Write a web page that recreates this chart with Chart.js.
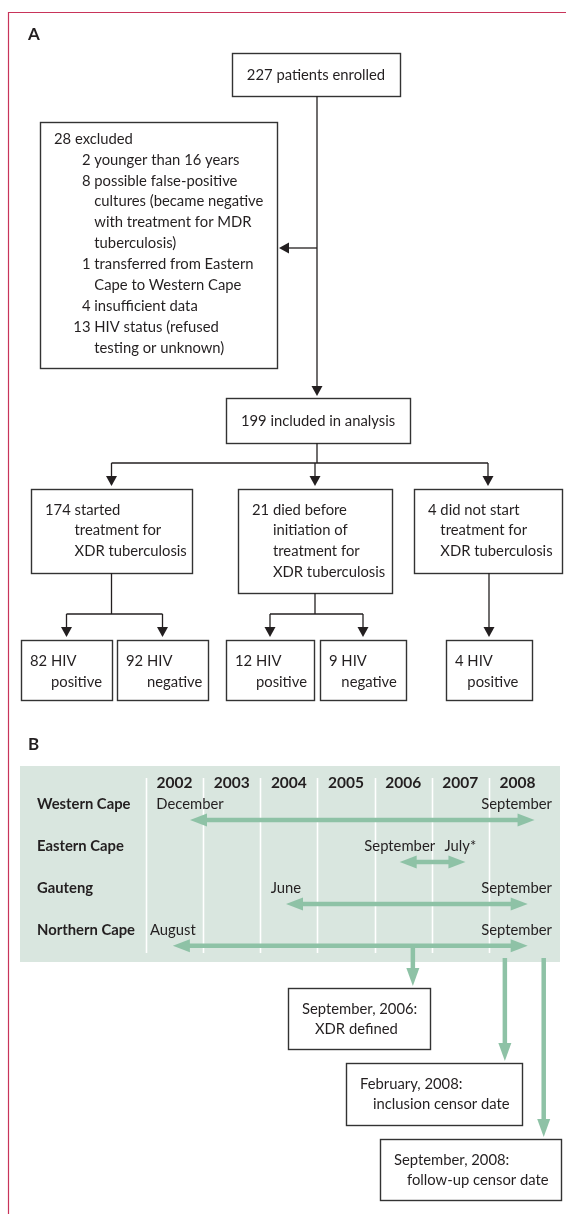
<!DOCTYPE html>
<html>
<head>
<meta charset="utf-8">
<script src="https://cdn.jsdelivr.net/npm/chart.js@4/dist/chart.umd.min.js"></script>
<style>
  html, body { margin: 0; padding: 0; background: #fff; }
  #wrap { position: relative; width: 566px; height: 1214px; }
</style>
</head>
<body>
<div id="wrap"><canvas id="chart"></canvas></div>
<script>
// ---- flowchart (panel A) ----
const enrolledCount = 227;
const excludedCount = 28;
const exclusionCounts = [2, 8, 1, 4, 13];
const exclusionReasons = [
  ["younger than 16 years"],
  ["possible false-positive", "cultures (became negative", "with treatment for MDR", "tuberculosis)"],
  ["transferred from Eastern", "Cape to Western Cape"],
  ["insufficient data"],
  ["HIV status (refused", "testing or unknown)"]
];
const includedCount = 199;
const groupCounts = [174, 21, 4];
const groupLabels = [
  ["started", "treatment for", "XDR tuberculosis"],
  ["died before", "initiation of", "treatment for", "XDR tuberculosis"],
  ["did not start", "treatment for", "XDR tuberculosis"]
];
const hivCounts = [82, 92, 12, 9, 4];
const hivLabels = [
  ["HIV", "positive"],
  ["HIV", "negative"],
  ["HIV", "positive"],
  ["HIV", "negative"],
  ["HIV", "positive"]
];
const hivParent = [0, 0, 1, 1, 2];

// ---- timeline (panel B) ----
const years = [2002, 2003, 2004, 2005, 2006, 2007, 2008];
const regions = ["Western Cape", "Eastern Cape", "Gauteng", "Northern Cape"];
const startYear = [2002.77, 2006.44, 2004.45, 2002.47];
const endYear = [2008.80, 2007.59, 2008.68, 2008.68];
const startMonth = ["December", "September", "June", "August"];
const endMonth = ["September", "July*", "September", "September"];
const eventYear = [2006.67, 2008.28, 2008.96];
const eventDate = ["September, 2006:", "February, 2008:", "September, 2008:"];
const eventText = ["XDR defined", "inclusion censor date", "follow-up censor date"];

const INK = "#231f20";
const GREEN = "#8ec2a6";
const PANEL = "#d9e6df";
const FRAME = "#c8345a";
const FACE = "Lato, 'Open Sans', sans-serif";
const TEXT_SIZE = 14.8;

function font(size, bold) {
  return `${bold ? "bold " : ""}${size}px ${FACE}`;
}

// layout of the boxes (pixels)
const flow = {
  enrolled: { x: 232, y: 53, w: 168, h: 43 },
  excluded: { x: 40, y: 122, w: 237, h: 246 },
  included: { x: 226, y: 398, w: 184, h: 45 },
  groups: [
    { x: 31, y: 489, w: 161, h: 84 },
    { x: 238, y: 489, w: 154, h: 104 },
    { x: 414, y: 489, w: 148, h: 84 }
  ],
  hiv: [
    { x: 21, y: 640, w: 91, h: 60 },
    { x: 117, y: 640, w: 91, h: 60 },
    { x: 226, y: 640, w: 88, h: 60 },
    { x: 320, y: 640, w: 86, h: 60 },
    { x: 446, y: 640, w: 86, h: 60 }
  ],
  trunkX: 317,
  exclY: 248,
  branchY: 463,
  splitY: 614
};
const panel = { x: 20, y: 766, w: 540, h: 196 };
const callouts = [
  { y: 988, w: 142, h: 61 },
  { y: 1063, w: 176, h: 62 },
  { y: 1139, w: 181, h: 61 }
];

function drawBox(ctx, b) {
  ctx.strokeStyle = "#333";
  ctx.lineWidth = 1.4;
  ctx.strokeRect(b.x + 0.5, b.y + 0.5, b.w, b.h);
}

function head(ctx, x, y, dx, dy, len, half) {
  // tip at (x, y), pointing along (dx, dy)
  const bx = x - dx * len, by = y - dy * len;
  ctx.beginPath();
  ctx.moveTo(x, y);
  ctx.lineTo(bx - dy * half, by + dx * half);
  ctx.lineTo(bx + dy * half, by - dx * half);
  ctx.closePath();
  ctx.fill();
}

function blackArrow(ctx, x1, y1, x2, y2) {
  const d = Math.hypot(x2 - x1, y2 - y1);
  const dx = (x2 - x1) / d, dy = (y2 - y1) / d;
  ctx.strokeStyle = INK;
  ctx.fillStyle = INK;
  ctx.lineWidth = 1.3;
  ctx.beginPath();
  ctx.moveTo(x1, y1);
  ctx.lineTo(x2 - dx * 9, y2 - dy * 9);
  ctx.stroke();
  head(ctx, x2, y2, dx, dy, 10, 5.5);
}

function line(ctx, pts) {
  ctx.strokeStyle = INK;
  ctx.lineWidth = 1.3;
  ctx.beginPath();
  pts.forEach(([x, y], i) => (i ? ctx.lineTo(x, y) : ctx.moveTo(x, y)));
  ctx.stroke();
}

// first line "N text", later lines hang under the text
function hangText(ctx, count, lines, x, y, lineH) {
  const lead = `${count} `;
  const indent = ctx.measureText(lead).width;
  lines.forEach((t, i) => {
    ctx.fillText(i === 0 ? lead + t : t, i === 0 ? x : x + indent, y + i * lineH);
  });
}

const flowchartPlugin = {
  id: "flowchart",
  beforeDraw(chart) {
    const ctx = chart.ctx;
    ctx.save();
    ctx.fillStyle = "#fff";
    ctx.fillRect(0, 0, chart.width, chart.height);

    // frame
    ctx.strokeStyle = FRAME;
    ctx.lineWidth = 1.2;
    ctx.beginPath();
    ctx.moveTo(566, 12.5);
    ctx.lineTo(8.5, 12.5);
    ctx.lineTo(8.5, 1214);
    ctx.stroke();

    ctx.fillStyle = INK;
    ctx.textBaseline = "middle";
    ctx.font = font(17, true);
    ctx.fillText("A", 28, 35);
    ctx.fillText("B", 28, 745);

    ctx.font = font(TEXT_SIZE);
    const e = flow.enrolled, inc = flow.included, ex = flow.excluded;
    drawBox(ctx, e);
    ctx.textAlign = "center";
    ctx.fillText(`${enrolledCount} patients enrolled`, e.x + e.w / 2, e.y + e.h / 2 + 1);
    drawBox(ctx, inc);
    ctx.fillText(`${includedCount} included in analysis`, inc.x + inc.w / 2, inc.y + inc.h / 2 + 1);
    ctx.textAlign = "left";

    // exclusions
    drawBox(ctx, ex);
    ctx.fillText(`${excludedCount} excluded`, ex.x + 14, ex.y + 17);
    const numRight = ex.x + 50.5;
    const sp = ctx.measureText(" ").width;
    let row = 1;
    exclusionCounts.forEach((n, i) => {
      const y0 = ex.y + 17 + row * 20.9;
      ctx.textAlign = "right";
      ctx.fillText(String(n), numRight, y0);
      ctx.textAlign = "left";
      exclusionReasons[i].forEach((t, k) => {
        ctx.fillText(t, numRight + sp, y0 + k * 20.9);
      });
      row += exclusionReasons[i].length;
    });

    // connectors
    const tx = flow.trunkX;
    blackArrow(ctx, tx, e.y + e.h, tx, inc.y - 2);
    blackArrow(ctx, tx, flow.exclY, ex.x + ex.w + 2, flow.exclY);

    const gc = flow.groups.map((g) => g.x + g.w / 2);
    line(ctx, [[tx, inc.y + inc.h], [tx, flow.branchY]]);
    line(ctx, [[gc[0], flow.branchY], [gc[2], flow.branchY]]);
    flow.groups.forEach((g, i) => {
      blackArrow(ctx, gc[i], flow.branchY, gc[i], g.y - 3);
      drawBox(ctx, g);
      hangText(ctx, groupCounts[i], groupLabels[i], g.x + 14, g.y + 21, 20.6);
    });

    const hc = flow.hiv.map((h) => h.x + h.w / 2);
    flow.groups.forEach((g, i) => {
      const kids = hivParent.map((p, k) => (p === i ? k : -1)).filter((k) => k >= 0);
      if (kids.length === 1) {
        const cx = hc[kids[0]];
        blackArrow(ctx, cx, g.y + g.h, cx, flow.hiv[kids[0]].y - 3);
        return;
      }
      line(ctx, [[gc[i], g.y + g.h], [gc[i], flow.splitY]]);
      line(ctx, [[hc[kids[0]], flow.splitY], [hc[kids[kids.length - 1]], flow.splitY]]);
      kids.forEach((k) => blackArrow(ctx, hc[k], flow.splitY, hc[k], flow.hiv[k].y - 3));
    });
    flow.hiv.forEach((h, k) => {
      drawBox(ctx, h);
      hangText(ctx, hivCounts[k], hivLabels[k], h.x + 9, h.y + 21, 21);
    });

    // timeline background
    ctx.fillStyle = PANEL;
    ctx.fillRect(panel.x, panel.y, panel.w, panel.h);
    ctx.restore();
  }
};

const timelinePlugin = {
  id: "timeline",
  beforeDatasetsDraw(chart) {
    const { ctx, chartArea, scales } = chart;
    ctx.save();
    ctx.strokeStyle = "#fff";
    ctx.lineWidth = 1.6;
    years.forEach((yr) => {
      const x = Math.round(scales.x.getPixelForValue(yr)) + 0.5;
      ctx.beginPath();
      ctx.moveTo(x, chartArea.top);
      ctx.lineTo(x, chartArea.bottom);
      ctx.stroke();
    });
    ctx.fillStyle = INK;
    ctx.textBaseline = "middle";
    ctx.textAlign = "center";
    ctx.font = font(15.5, true);
    years.forEach((yr) => {
      ctx.fillText(String(yr), scales.x.getPixelForValue(yr + 0.5), chartArea.top + 5);
    });
    ctx.restore();
  },
  afterDatasetsDraw(chart) {
    const { ctx, scales } = chart;
    ctx.save();
    ctx.fillStyle = INK;
    ctx.textBaseline = "middle";

    regions.forEach((name, i) => {
      const pts = chart.getDatasetMeta(i).data;
      const x1 = pts[0].x, x2 = pts[1].x, y = pts[0].y;
      const ly = y - 16;

      ctx.fillStyle = INK;
      ctx.font = font(14.8, true);
      ctx.textAlign = "left";
      ctx.fillText(name, 37, ly);

      ctx.font = font(TEXT_SIZE);
      const w1 = ctx.measureText(startMonth[i]).width;
      const w2 = ctx.measureText(endMonth[i]).width;
      const sx = Math.max(x1 - w1 / 2, 143);
      const gap = ctx.measureText(" ").width;
      ctx.fillText(startMonth[i], sx, ly);
      ctx.fillText(endMonth[i], Math.max(sx + w1 + gap, Math.min(x2 - w2 / 2 - 5, 552 - w2)), ly);

      // double-headed arrow
      ctx.fillStyle = GREEN;
      ctx.strokeStyle = GREEN;
      ctx.lineWidth = 4.5;
      ctx.beginPath();
      ctx.moveTo(x1 + 14, y);
      ctx.lineTo(x2 - 14, y);
      ctx.stroke();
      head(ctx, x1, y, -1, 0, 17, 6.5);
      head(ctx, x2, y, 1, 0, 17, 6.5);
    });

    // event markers and their boxes
    const nRow = scales.y.getPixelForValue(regions.length - 1);
    eventYear.forEach((yr, i) => {
      const x = scales.x.getPixelForValue(yr);
      const c = callouts[i];
      const y0 = i === 0 ? nRow : panel.y + panel.h - 4;
      const tip = c.y - 2;
      ctx.strokeStyle = GREEN;
      ctx.fillStyle = GREEN;
      ctx.lineWidth = 4.5;
      ctx.beginPath();
      ctx.moveTo(x, y0);
      ctx.lineTo(x, tip - 14);
      ctx.stroke();
      head(ctx, x, tip, 0, 1, 18, 6.5);

      const b = { x: Math.round(x + 17 - c.w), y: c.y, w: c.w, h: c.h };
      drawBox(ctx, b);
      ctx.fillStyle = INK;
      ctx.font = font(TEXT_SIZE);
      ctx.textAlign = "left";
      ctx.fillText(eventDate[i], b.x + 14, b.y + 21);
      ctx.fillText(eventText[i], b.x + 27, b.y + 41);
    });
    ctx.restore();
  }
};

const chart = new Chart(document.getElementById("chart"), {
  type: "scatter",
  data: {
    datasets: regions.map((name, i) => ({
      label: name,
      data: [
        { x: startYear[i], y: i },
        { x: endYear[i], y: i }
      ],
      showLine: false,
      pointRadius: 0,
      borderColor: GREEN,
      backgroundColor: GREEN
    }))
  },
  options: {
    responsive: true,
    maintainAspectRatio: false,
    animation: false,
    events: [],
    layout: { padding: { left: 146, right: 20, top: 778, bottom: 261 } },
    plugins: { legend: { display: false }, tooltip: { enabled: false } },
    scales: {
      x: { type: "linear", min: 2002, max: 2009, display: false },
      y: { type: "linear", min: -1, max: 3.17, reverse: true, display: false }
    }
  },
  plugins: [flowchartPlugin, timelinePlugin]
});
</script>
</body>
</html>
